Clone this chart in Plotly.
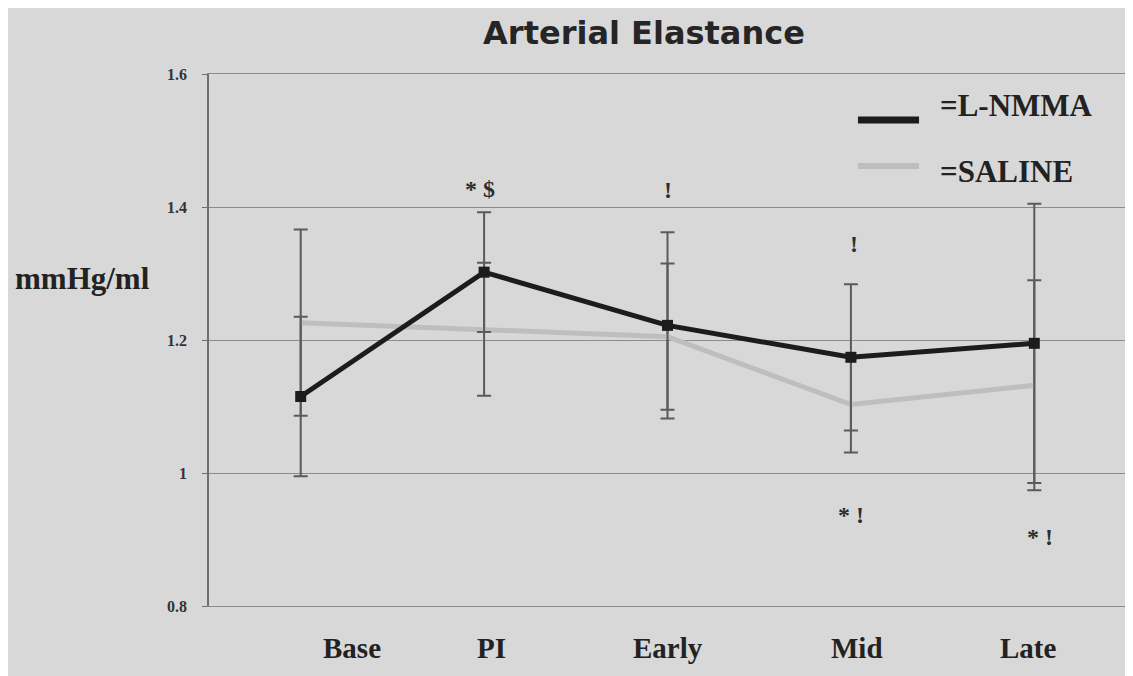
import plotly.graph_objects as go

# time points
cats = ["Base", "PI", "Early", "Mid", "Late"]

# arterial elastance (mmHg/ml), mean and error
lnmma = [1.115, 1.302, 1.222, 1.174, 1.195]
lnmma_err = [0.12, 0.09, 0.14, 0.11, 0.21]
saline = [1.226, 1.216, 1.205, 1.103, 1.132]
saline_err = [0.14, 0.10, 0.11, 0.072, 0.158]

# significance marks
sig_cat = ["PI", "Early", "Mid", "Mid", "Late"]
sig_y = [1.427, 1.426, 1.344, 0.937, 0.904]
sig_txt = ["* $", "!", "!", "* !", "* !"]
sig_shift = [-4, 0, 3, 0, 6]

ytick_vals = [0.8, 1.0, 1.2, 1.4, 1.6]
ytick_txt = ["0.8", "1", "1.2", "1.4", "1.6"]

bg = "#d8d8d8"
serif = "Liberation Serif"

# page has an 8px body margin, so the figure is 8px smaller than the window
W, H = 1125, 668

fig = go.Figure()

fig.add_trace(go.Scatter(x=cats, y=saline, mode="lines", name="=SALINE",
                         line=dict(color="#bebebe", width=5),
                         error_y=dict(type="data", array=saline_err, color="#5a5a5a",
                                      thickness=2, width=7)))
fig.add_trace(go.Scatter(x=cats, y=lnmma, mode="lines+markers", name="=L-NMMA",
                         line=dict(color="#1c1c1c", width=5),
                         marker=dict(symbol="square", size=11, color="#1c1c1c"),
                         error_y=dict(type="data", array=lnmma_err, color="#5a5a5a",
                                      thickness=2, width=7)))

for c, y, t, s in zip(sig_cat, sig_y, sig_txt, sig_shift):
    fig.add_annotation(x=c, y=y, text="<b>%s</b>" % t, showarrow=False, xshift=s,
                       xanchor="center",
                       font=dict(family=serif, size=24, color="#2e2e2e"))

# category labels sit a bit off the points in the original (pixel centres)
lab_px = [352, 491, 668, 857, 1028]
for c, px in zip(cats, lab_px):
    fig.add_annotation(x=(px - 209) / 917, y=-0.079, xref="paper", yref="paper",
                       text="<b>%s</b>" % c, showarrow=False,
                       xanchor="center", yanchor="middle",
                       font=dict(family=serif, size=29, color="#222222"))

# hand drawn legend
fig.add_shape(type="line", xref="paper", yref="paper", x0=0.7077, x1=0.7743, y0=0.9135, y1=0.9135,
              line=dict(color="#1c1c1c", width=7))
fig.add_shape(type="line", xref="paper", yref="paper", x0=0.7077, x1=0.7743, y0=0.827, y1=0.827,
              line=dict(color="#bebebe", width=6))
fig.add_annotation(x=0.795, y=0.9417, xref="paper", yref="paper", text="<b>=L-NMMA</b>",
                   showarrow=False, xanchor="left", yanchor="middle",
                   font=dict(family=serif, size=31, color="#222222"))
fig.add_annotation(x=0.795, y=0.8158, xref="paper", yref="paper", text="<b>=SALINE</b>",
                   showarrow=False, xanchor="left", yanchor="middle",
                   font=dict(family=serif, size=31, color="#222222"))

# y axis title, written level like the original
fig.add_annotation(x=(82 - 209) / 917, y=(606 - 278) / 532, xref="paper", yref="paper",
                   text="<b>mmHg/ml</b>", showarrow=False, xanchor="center", yanchor="middle",
                   font=dict(family=serif, size=31, color="#222222"))

fig.update_layout(
    width=W, height=H,
    margin=dict(l=201, r=7, t=66, b=70),
    paper_bgcolor=bg, plot_bgcolor=bg,
    showlegend=False,
    title=dict(text="<b>Arterial Elastance</b>", x=(644 - 8) / W, xanchor="center",
               y=1 - (33 - 8) / H, yanchor="middle",
               font=dict(family="DejaVu Sans", size=32, color="#252525")),
    xaxis=dict(type="category", range=[-0.5, 4.5], showticklabels=False, showgrid=False,
               zeroline=False, showline=True, linecolor="#8a8a8a", linewidth=1, mirror=True),
    yaxis=dict(range=[0.8, 1.6], tickvals=ytick_vals,
               ticktext=["<b>%s</b>" % t for t in ytick_txt],
               showgrid=True, gridcolor="#8c8c8c", gridwidth=1, zeroline=False,
               showline=True, linecolor="#6e6e6e", linewidth=1.5,
               ticks="outside", ticklen=5, tickcolor="#6e6e6e", ticklabelstandoff=12,
               tickfont=dict(family=serif, size=16, color="#333333")),
)

fig.write_html("out.html")
